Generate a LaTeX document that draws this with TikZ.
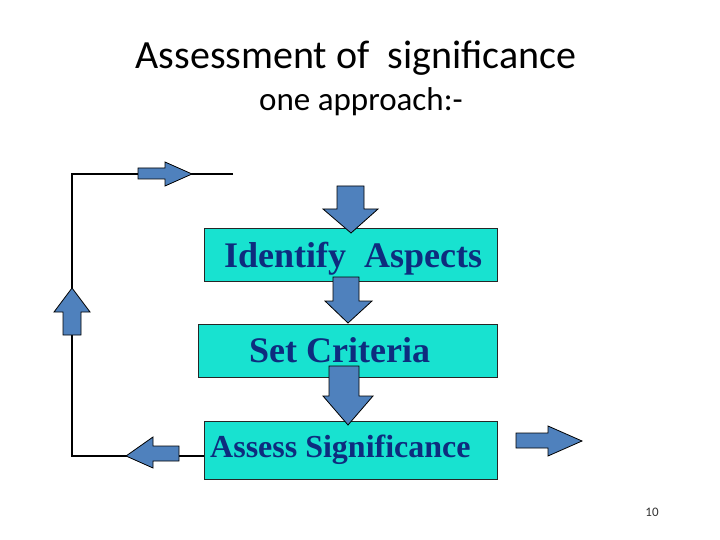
\documentclass[tikz,border=0pt]{standalone}
\usepackage{fontspec}
\newfontfamily\titlefont{Carlito}
\newfontfamily\boxfont{Liberation Serif}
\definecolor{boxcyan}{RGB}{24,226,208}
\definecolor{arrowblue}{RGB}{79,129,189}
\definecolor{navytext}{RGB}{14,44,126}
\tikzset{
  boxnode/.style={draw=black!85, line width=0.8pt, fill=boxcyan, inner sep=0pt},
  boxtext/.style={inner sep=0pt, anchor=base west, text=navytext, font=\boxfont\bfseries},
  blockarrow/.style={draw=black, line width=0.8pt, fill=arrowblue, line join=miter},
  loopline/.style={draw=black, line width=1.1pt},
  titletext/.style={inner sep=0pt, anchor=base, font=\titlefont}
}
\begin{document}
\begin{tikzpicture}[x=1pt,y=-1pt]
\useasboundingbox (0,0) rectangle (720,540);
% titles
\node[titletext, font=\titlefont\fontsize{40}{46}\selectfont] (title) at (356,69) {Assessment of\ \ significance};
\node[titletext, font=\titlefont\fontsize{33}{38}\selectfont] (subtitle) at (361,111) {one approach:-};
% boxes
\node[boxnode, minimum width=293pt, minimum height=53pt] (ia) at (351,255) {};
\node[boxnode, minimum width=299pt, minimum height=53pt] (sc) at (347.5,350.5) {};
\node[boxnode, minimum width=293pt, minimum height=58pt] (as) at (350.5,450) {};
\node[boxtext, font=\boxfont\bfseries\fontsize{36}{40}\selectfont] (t1) at (224,267) {Identify\ \ Aspects};
\node[boxtext, font=\boxfont\bfseries\fontsize{36}{40}\selectfont] (t2) at (249,362) {Set Criteria};
\node[boxtext, font=\boxfont\bfseries\fontsize{32}{36}\selectfont] (t3) at (210,457) {Assess Significance};
% loop lines
\coordinate (tl) at (72,174);
\coordinate (tr) at (233,174);
\coordinate (bl) at (72,456);
\draw[loopline] (tr) -- (tl) -- (bl) -- (bl -| as.west);
% block arrows (down)
\draw[blockarrow] (337,186) -- (364,186) -- (364,209) -- (378,209) -- (351,233) -- (323,209) -- (337,209) -- cycle;
\draw[blockarrow] (333,277) -- (359,277) -- (359,301) -- (372,301) -- (348,323) -- (325,301) -- (333,301) -- cycle;
\draw[blockarrow] (329,366) -- (359,366) -- (359,396) -- (373,396) -- (348,425) -- (323,396) -- (329,396) -- cycle;
% right arrow on top line
\draw[blockarrow] (138,168) -- (165,168) -- (165,162) -- (192,174) -- (165,186) -- (165,179) -- (138,179) -- cycle;
% left arrow on bottom line
\draw[blockarrow] (179,446) -- (153,446) -- (153,437) -- (126,456) -- (153,468) -- (153,461) -- (179,461) -- cycle;
% up arrow on left line
\draw[blockarrow] (63,335) -- (63,312) -- (54,312) -- (72,288) -- (90,312) -- (81,312) -- (81,335) -- cycle;
% right arrow (output)
\draw[blockarrow] (516,433) -- (548,433) -- (548,426) -- (582,441) -- (548,456) -- (548,448) -- (516,448) -- cycle;
% page number
\node[titletext, font=\titlefont\fontsize{13}{15}\selectfont, text=black!80] (pg) at (652,516) {10};
\end{tikzpicture}
\end{document}
